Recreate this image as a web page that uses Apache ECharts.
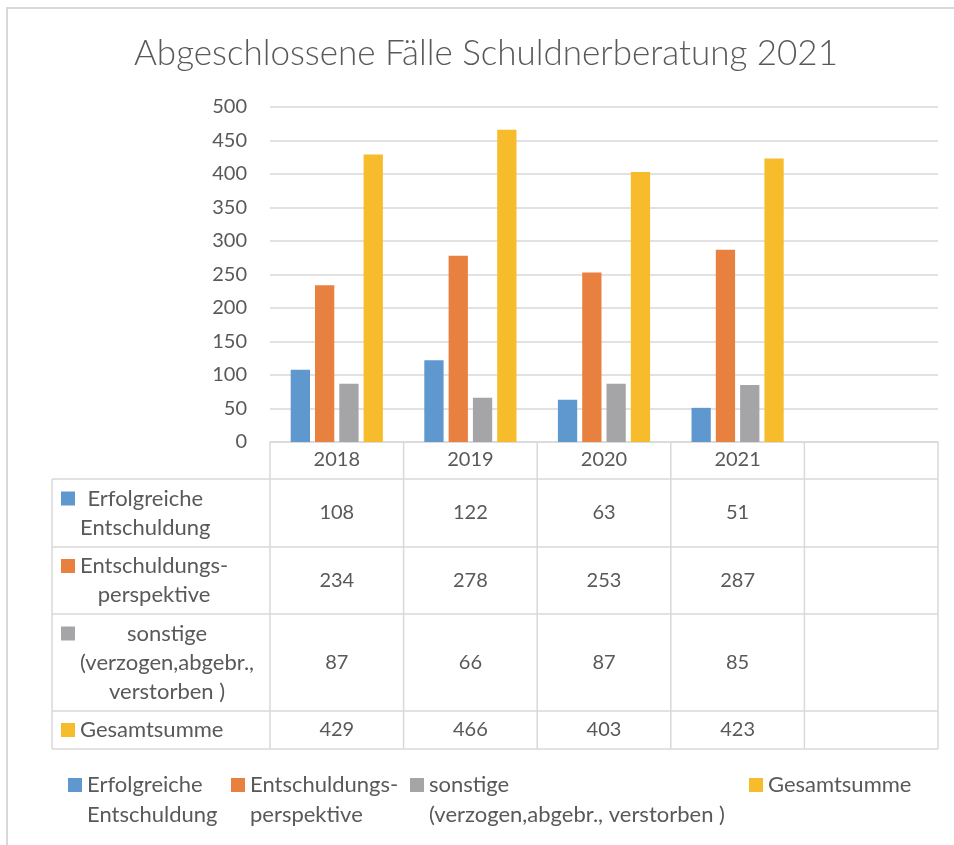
<!DOCTYPE html>
<html lang="de">
<head>
<meta charset="utf-8">
<title>Abgeschlossene Fälle Schuldnerberatung 2021</title>
<script src="https://cdn.jsdelivr.net/npm/echarts@6/dist/echarts.min.js"></script>
<style>
    html, body { margin: 0; padding: 0; background: #fff; }
    #main { width: 954px; height: 845px; }
</style>
</head>
<body>
<div id="main"></div>
<script>
// Daten
var jahre = ['2018', '2019', '2020', '2021', ''];
var serien = ['Erfolgreiche Entschuldung', 'Entschuldungs-perspektive', 'sonstige (verzogen,abgebr., verstorben )', 'Gesamtsumme'];
var legendeText = ['Erfolgreiche\nEntschuldung', 'Entschuldungs-\nperspektive', 'sonstige\n(verzogen,abgebr., verstorben )', 'Gesamtsumme'];
var tabellenText = ['Erfolgreiche\nEntschuldung', 'Entschuldungs-\nperspektive', 'sonstige\n(verzogen,abgebr.,\nverstorben )', 'Gesamtsumme'];
var erfolgreich = [108, 122, 63, 51];
var perspektive = [234, 278, 253, 287];
var sonstige = [87, 66, 87, 85];
var gesamt = [429, 466, 403, 423];

var werte = [erfolgreich, perspektive, sonstige, gesamt];
var farben = ['#5e98cf', '#e8803f', '#a5a5a7', '#f6bc2c'];
var textFarbe = '#595959';
var linienFarbe = '#d9d9d9';
var schrift = 'Lato, "Open Sans", sans-serif';

// Layout der Tabelle unter der Achse
var zeilen = [479, 547, 614, 711, 749];   // Unterkanten: Kopfzeile, dann je Serie
var tabLinks = 52;
var legendeLinks = [68, 231, 410, 749];

var chart = echarts.init(document.getElementById('main'));

chart.setOption({
    animation: false,
    title: {
        text: 'Abgeschlossene Fälle Schuldnerberatung 2021',
        left: 486, top: 36, textAlign: 'center', padding: 0,
        textStyle: { fontFamily: schrift, fontWeight: 300, fontSize: 35, color: textFarbe }
    },
    grid: { left: 270, right: 16, top: 107, bottom: 403 },
    xAxis: {
        type: 'category',
        data: jahre,
        axisLine: { lineStyle: { color: linienFarbe, width: 1.5 } },
        axisTick: { show: false },
        axisLabel: { color: textFarbe, fontSize: 20, fontFamily: schrift, margin: 8 }
    },
    yAxis: {
        type: 'value', min: 0, max: 500, interval: 50,
        axisLine: { show: false },
        axisTick: { show: false },
        axisLabel: { color: textFarbe, fontSize: 20, fontFamily: schrift, margin: 23 },
        splitLine: { lineStyle: { color: linienFarbe, width: 1.5 } }
    },
    legend: serien.map(function (name, i) {
        var zweiZeilen = legendeText[i].indexOf('\n') >= 0;
        return {
            data: [name],
            left: legendeLinks[i], top: 770, padding: 0,
            itemWidth: 14, itemHeight: zweiZeilen ? 44 : 14,
            icon: zweiZeilen ? 'path://M0,0L14,0L14,14L0,14Z M0,44' : 'rect',
            selectedMode: false,
            formatter: function () { return legendeText[i]; },
            textStyle: { color: textFarbe, fontSize: 22, fontFamily: schrift, lineHeight: 30 }
        };
    }),
    series: serien.map(function (name, i) {
        return {
            name: name,
            type: 'bar',
            data: werte[i],
            barGap: '26%',
            barCategoryGap: '31%',
            itemStyle: { color: farben[i] }
        };
    })
});

// Datentabelle unter dem Diagramm
var ctx = document.createElement('canvas').getContext('2d');
ctx.font = '22px ' + schrift;
function blockBreite(t) {
    return Math.max.apply(null, t.split('\n').map(function (s) { return ctx.measureText(s).width; }));
}

var x0 = chart.convertToPixel({ xAxisIndex: 0 }, 0);
var x1 = chart.convertToPixel({ xAxisIndex: 0 }, 1);
var band = x1 - x0;
var achseY = chart.convertToPixel({ yAxisIndex: 0 }, 0);
var grenzen = [achseY].concat(zeilen);
var rechts = x0 - band / 2 + band * jahre.length;

var elemente = [];
function linie(xa, ya, xb, yb) {
    elemente.push({
        type: 'line', silent: true,
        shape: { x1: xa, y1: ya, x2: xb, y2: yb },
        style: { stroke: linienFarbe, lineWidth: 1.5 }
    });
}

// Rahmen des Diagramms
elemente.push({
    type: 'rect', silent: true, z: -1,
    shape: { x: 7, y: 8, width: 1200, height: 1200 },
    style: { fill: 'none', stroke: linienFarbe, lineWidth: 2 }
});

for (var r = 1; r < grenzen.length; r++) linie(tabLinks, grenzen[r], rechts, grenzen[r]);
linie(tabLinks, grenzen[1], tabLinks, grenzen[grenzen.length - 1]);
for (var c = 0; c <= jahre.length; c++) {
    var xc = x0 - band / 2 + band * c;
    linie(xc, achseY, xc, grenzen[grenzen.length - 1]);
}

serien.forEach(function (name, i) {
    var oben = grenzen[i + 1], unten = grenzen[i + 2];
    var mitte = (oben + unten) / 2;
    var n = tabellenText[i].split('\n').length;
    var ersteZeile = mitte - (n - 1) * 14.5;
    elemente.push({
        type: 'rect', silent: true,
        shape: { x: 61, y: ersteZeile - 7, width: 14, height: 14 },
        style: { fill: farben[i] }
    });
    elemente.push({
        type: 'text', silent: true,
        style: {
            text: tabellenText[i], x: 80 + blockBreite(tabellenText[i]) / 2, y: mitte,
            align: 'center', verticalAlign: 'middle', lineHeight: 29,
            font: '22px ' + schrift, fill: textFarbe
        }
    });
    werte[i].forEach(function (v, j) {
        elemente.push({
            type: 'text', silent: true,
            style: {
                text: String(v), x: chart.convertToPixel({ xAxisIndex: 0 }, j), y: mitte,
                align: 'center', verticalAlign: 'middle',
                font: '20px ' + schrift, fill: textFarbe
            }
        });
    });
});

chart.setOption({ graphic: elemente });
</script>
</body>
</html>
